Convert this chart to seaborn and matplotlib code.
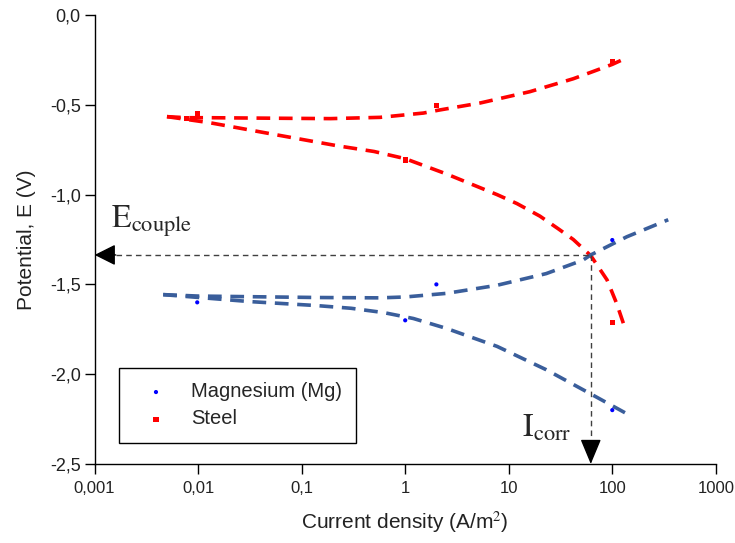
import matplotlib
matplotlib.use('Agg')
import matplotlib.pyplot as plt
from matplotlib.ticker import FixedLocator, FuncFormatter, NullLocator
import seaborn as sns

# polarisation curves (current density A/m2, potential V)
steel_anodic_i = [0.005, 0.0077, 0.013, 0.06, 0.19, 0.57, 1.5, 2.1, 5.3, 16, 42, 65, 100, 130]
steel_anodic_e = [-0.566, -0.572, -0.572, -0.575, -0.577, -0.570, -0.546, -0.530, -0.490, -0.427, -0.355, -0.315, -0.275, -0.245]
steel_cath_i = [0.005, 0.013, 0.058, 0.22, 0.5, 1, 2.5, 7.7, 12, 20, 30, 42, 62, 89, 110, 133]
steel_cath_e = [-0.566, -0.600, -0.668, -0.728, -0.760, -0.800, -0.885, -1.000, -1.050, -1.120, -1.190, -1.250, -1.340, -1.475, -1.605, -1.745]

mg_anodic_i = [0.0046, 0.01, 0.14, 0.57, 1, 2.5, 7.7, 23, 52, 62, 138, 347]
mg_anodic_e = [-1.557, -1.565, -1.573, -1.575, -1.570, -1.550, -1.505, -1.440, -1.365, -1.336, -1.235, -1.140]
mg_cath_i = [0.0046, 0.032, 0.14, 0.3, 0.62, 1.2, 2.5, 7.7, 23, 62, 138]
mg_cath_e = [-1.557, -1.596, -1.618, -1.633, -1.657, -1.690, -1.745, -1.845, -1.975, -2.110, -2.220]

# measured points
mg_pts_i = [0.0098, 1, 2, 100, 100]
mg_pts_e = [-1.60, -1.70, -1.50, -1.253, -2.20]
steel_pts_i = [0.0077, 0.0098, 1, 2, 100, 100]
steel_pts_e = [-0.575, -0.55, -0.807, -0.505, -0.26, -1.71]

# corrosion couple
e_couple = -1.336
i_corr = 62

x_ticks = [0.001, 0.01, 0.1, 1, 10, 100, 1000]
x_tick_labels = ['0,001', '0,01', '0,1', '1', '10', '100', '1000']
y_ticks = [-2.5, -2.0, -1.5, -1.0, -0.5, 0.0]

sns.set_style('white')
plt.rcParams['font.family'] = ['Liberation Sans', 'DejaVu Sans']
plt.rcParams['mathtext.fontset'] = 'stix'

red = '#ff0000'
blue = '#3a5e9b'
dash = (0, (3.8, 2.4))

fig = plt.figure(figsize=(7.35, 5.43), dpi=100)
ax = fig.add_axes([0.1287, 0.1455, 0.8452, 0.8269])

#dashed fitted curves
for xs, ys, c in [(steel_anodic_i, steel_anodic_e, red), (steel_cath_i, steel_cath_e, red),
                  (mg_anodic_i, mg_anodic_e, blue), (mg_cath_i, mg_cath_e, blue)]:
    sns.lineplot(x=xs, y=ys, color=c, lw=2.6, linestyle=dash, estimator=None, sort=False, ax=ax)

#data points
sns.scatterplot(x=mg_pts_i, y=mg_pts_e, color='#0000ff', marker='o', s=9, edgecolor='none',
                label='Magnesium (Mg)', ax=ax, zorder=5)
sns.scatterplot(x=steel_pts_i, y=steel_pts_e, color=red, marker='s', s=14, edgecolor='none',
                label='Steel', ax=ax, zorder=5)

ax.set_xscale('log')
ax.set_xlim(0.001, 1000)
ax.set_ylim(-2.5, 0)

#E couple / I corr guide lines
ax.plot([0.0016, i_corr], [e_couple, e_couple], color='#404040', lw=1, linestyle=(0, (4, 3)))
ax.plot([i_corr, i_corr], [e_couple, -2.38], color='#404040', lw=1, linestyle=(0, (4, 3)))
ax.annotate('', xy=(0.001, e_couple), xytext=(0.0016, e_couple),
            arrowprops=dict(arrowstyle='-|>,head_length=1.0,head_width=0.5', mutation_scale=13,
                            fc='black', ec='black', shrinkA=0, shrinkB=0))
ax.annotate('', xy=(i_corr, -2.5), xytext=(i_corr, -2.37),
            arrowprops=dict(arrowstyle='-|>,head_length=1.2,head_width=0.5', mutation_scale=13,
                            fc='black', ec='black', shrinkA=0, shrinkB=0))
ax.text(0.00144, -1.186, r'$\mathrm{E}_{\mathrm{couple}}$', fontsize=23, ha='left', va='baseline')
ax.text(13.4, -2.348, r'$\mathrm{I}_{\mathrm{corr}}$', fontsize=23, ha='left', va='baseline')

ax.xaxis.set_major_locator(FixedLocator(x_ticks))
ax.xaxis.set_minor_locator(NullLocator())
ax.set_xticklabels(x_tick_labels)
ax.yaxis.set_major_locator(FixedLocator(y_ticks))
ax.yaxis.set_major_formatter(FuncFormatter(lambda v, p: f'{0.0 if abs(v) < 1e-9 else v:.1f}'.replace('.', ',')))

ax.tick_params(bottom=True, left=True, direction='out', length=7, width=1, colors='black',
               labelcolor='#222222')
ax.tick_params(axis='y', pad=3, labelsize=13)
ax.tick_params(axis='x', pad=5, labelsize=12)
for s in ['top', 'right']:
    ax.spines[s].set_visible(False)
for s in ['left', 'bottom']:
    ax.spines[s].set_color('black')
    ax.spines[s].set_linewidth(1)

ax.set_xlabel('Current density (A/m$^2$)', fontsize=15, color='#222222', labelpad=10)
ax.set_ylabel('Potential, E (V)', fontsize=15, color='#222222', labelpad=10)

leg = ax.legend(loc='lower left', bbox_to_anchor=(0.039, 0.047), borderaxespad=0, fontsize=14.5,
                frameon=True, fancybox=False, edgecolor='black', framealpha=1,
                borderpad=0.72, handlelength=2.25, handletextpad=0.6, labelspacing=0.4)
leg.get_frame().set_linewidth(1)

plt.savefig('out.png', dpi=100)
